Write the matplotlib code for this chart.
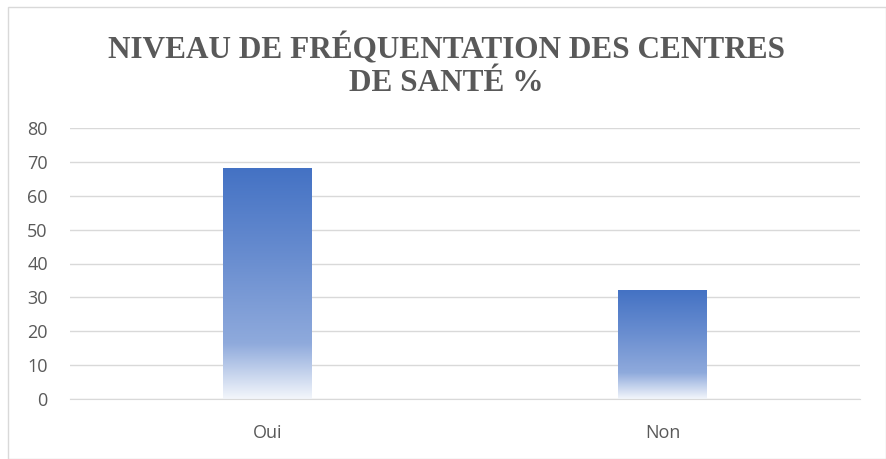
import matplotlib

matplotlib.use("Agg")

import matplotlib.pyplot as plt
import numpy as np
from matplotlib.colors import LinearSegmentedColormap
from matplotlib.patches import Rectangle

categories = ["Oui", "Non"]
values = [68.0, 32.0]
y_ticks = [0, 10, 20, 30, 40, 50, 60, 70, 80]
title = "NIVEAU DE FRÉQUENTATION DES CENTRES\nDE SANTÉ %"

text_gray = "#595959"
grid_gray = "#D9D9D9"

# blue at the top, fading to white near the bottom
fade = LinearSegmentedColormap.from_list(
    "fade",
    [(0.0, "#F3F6FB"), (0.24, "#8FAADC"), (0.6, "#6A8ED0"), (1.0, "#4472C4")],
)

fig = plt.figure(figsize=(8.87, 4.59), dpi=100)
fig.patches.append(
    Rectangle((0.009, 0.0), 0.99, 0.985, transform=fig.transFigure, fill=False,
              edgecolor="#D9D9D9", linewidth=1)
)
axis = fig.add_axes([70 / 887, 1 - 399 / 459, 790 / 887, 271 / 459])

x = np.arange(len(categories))
bars = axis.bar(x, values, width=0.223, color="none", zorder=2)
gradient = np.linspace(0, 1, 256).reshape(-1, 1)
for bar in bars:
    bx, by = bar.get_x(), bar.get_y()
    bw, bh = bar.get_width(), bar.get_height()
    axis.imshow(gradient, cmap=fade, origin="lower", aspect="auto",
                extent=(bx, bx + bw, by, by + bh), zorder=2)

axis.set_xlim(-0.5, len(categories) - 0.5)
axis.set_ylim(0, 80)
axis.set_xticks(x)
axis.set_xticklabels(categories)
axis.set_yticks(y_ticks)
axis.tick_params(length=0, colors=text_gray, labelsize=13)
axis.tick_params(axis="y", pad=16)
axis.tick_params(axis="x", pad=18)
for label in axis.get_xticklabels() + axis.get_yticklabels():
    label.set_fontfamily("Open Sans")
axis.grid(True, axis="y", color=grid_gray, linewidth=1)
axis.set_axisbelow(True)
for side in ["top", "right", "left"]:
    axis.spines[side].set_visible(False)
axis.spines["bottom"].set_color(grid_gray)

fig.text(0.503, 0.857, title, ha="center", va="center", fontsize=22.5,
         fontweight="bold", family="Liberation Serif", color=text_gray,
         linespacing=1.2)

fig.savefig("out.png", dpi=100)
plt.close(fig)
